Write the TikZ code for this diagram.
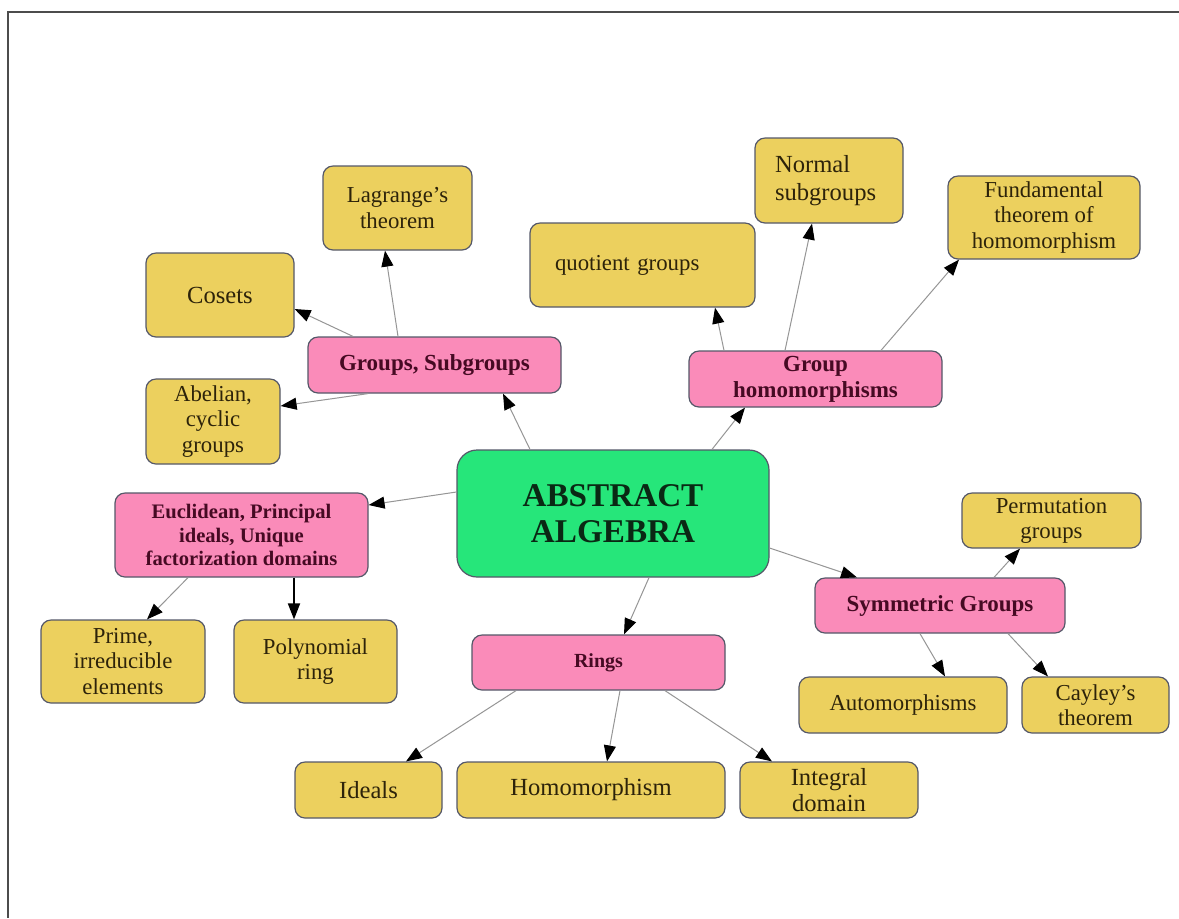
\documentclass[tikz,border=0pt]{standalone}
\usepackage{fontspec}
\setmainfont{Liberation Serif}
\usetikzlibrary{arrows.meta}
\definecolor{leafyellow}{RGB}{236,208,94}
\definecolor{topicpink}{RGB}{250,139,185}
\definecolor{rootgreen}{RGB}{38,230,122}
\definecolor{boxline}{RGB}{85,88,105}
\definecolor{linkgray}{RGB}{150,150,150}
\definecolor{leaftext}{RGB}{45,35,10}
\definecolor{topictext}{RGB}{70,10,35}
\definecolor{roottext}{RGB}{10,40,20}
\newcommand{\leaffont}{\fontsize{11.4}{12.6}\selectfont}
\newcommand{\bigleaffont}{\fontsize{12.3}{13.4}\selectfont}

\begin{document}
\begin{tikzpicture}[x=0.5pt,y=-0.5pt,
  box/.style={draw=boxline,line width=0.6pt,rounded corners=5pt,inner xsep=2pt,inner ysep=1pt,align=center},
  leaf/.style={box,fill=leafyellow,text=leaftext,font=\leaffont},
  topic/.style={box,fill=topicpink,text=topictext,font=\bfseries\fontsize{11.5}{13}\selectfont},
  root/.style={box,fill=rootgreen,rounded corners=10pt,text=roottext,font=\bfseries\fontsize{16.6}{18}\selectfont},
  link/.style={draw=linkgray,line width=0.5pt,-{Triangle[length=8pt,width=6pt,color=black]}}]
\fill [white] (0,0) rectangle (1179,918);
\useasboundingbox (0,0) rectangle (1179,918);
\draw [draw=gray!60!black,line width=0.7pt] (1179,12)--(8,12)--(8,918);

\node[root,minimum width=156pt,minimum height=63.5pt] (abs) at (613,513.5) {ABSTRACT\\ALGEBRA};

\node[topic,minimum width=126.5pt,minimum height=28pt] (grp) at (434.5,365) {Groups, Subgroups};
\node[leaf,minimum width=74.5pt,minimum height=42pt] (lag) at (397.5,208) {Lagrange's\\theorem};
\node[leaf,font=\bigleaffont,minimum width=74pt,minimum height=42pt] (cos) at (220,295) {Cosets};
\node[leaf,minimum width=67pt,minimum height=42.5pt] (abl) at (213,421.5) {Abelian,\\cyclic\\groups};

\node[topic,minimum width=126.5pt,minimum height=28pt] (ghm) at (815.5,379) {Group\\homomorphisms};
\node[leaf,minimum width=112.5pt,minimum height=42pt,text width=87.5pt,inner xsep=12.5pt,align=left] (quo) at (642.5,265) {quotient groups};
\node[leaf,font=\fontsize{12.3}{14}\selectfont,minimum width=74pt,minimum height=42.5pt,text width=54pt,inner xsep=10pt,align=left] (nor) at (829,180.5) {Normal\\subgroups};
\node[leaf,minimum width=96pt,minimum height=41.5pt] (fun) at (1044,217.5) {Fundamental\\theorem of\\homomorphism};

\node[topic,font=\bfseries\fontsize{10.3}{11.75}\selectfont,minimum width=126.5pt,minimum height=42pt] (euc) at (241.5,535) {Euclidean, Principal\\ideals, Unique\\factorization domains};
\node[leaf,minimum width=82pt,minimum height=41.5pt] (pri) at (123,661.5) {Prime,\\irreducible\\elements};
\node[leaf,minimum width=81.5pt,minimum height=41.5pt] (pol) at (315.5,661.5) {Polynomial\\ring};

\node[topic,minimum width=125pt,minimum height=27.5pt] (sym) at (940,605.5) {Symmetric Groups};
\node[leaf,minimum width=89.5pt,minimum height=27.5pt] (per) at (1051.5,520.5) {Permutation\\groups};
\node[leaf,minimum width=104pt,minimum height=28pt] (aut) at (903,705) {Automorphisms};
\node[leaf,minimum width=73.5pt,minimum height=28pt] (cay) at (1095.5,705) {Cayley's\\theorem};

\node[topic,font=\bfseries\fontsize{10}{12}\selectfont,minimum width=126.5pt,minimum height=27.5pt] (rin) at (598.5,662.5) {Rings};
\node[leaf,font=\bigleaffont,minimum width=73.5pt,minimum height=28pt] (ide) at (368.5,790) {Ideals};
\node[leaf,font=\bigleaffont,minimum width=134pt,minimum height=28pt] (hom) at (591,790) {Homomorphism};
\node[leaf,font=\bigleaffont,minimum width=89pt,minimum height=28pt] (int) at (829,790) {Integral\\domain};

\draw[link] ([xshift=-41.5pt]abs.north) -- ([xshift=34.25pt]grp.south);
\draw[link] ([xshift=49.5pt]abs.north) -- ([xshift=-35.25pt]ghm.south);
\draw[link] ([yshift=10.75pt]abs.west) -- ([yshift=15pt]euc.east);
\draw[link] ([yshift=-17.25pt]abs.east) -- ([xshift=-41.5pt]sym.north);
\draw[link] ([xshift=18pt]abs.south) -- ([xshift=12.75pt]rin.north);

\draw[link] ([xshift=-40.75pt]grp.north) -- ([yshift=-7pt]cos.east);
\draw[link] ([xshift=-18.25pt]grp.north) -- ([xshift=-6.25pt]lag.south);
\draw[link] ([xshift=-33.25pt]grp.south) -- ([yshift=7.75pt]abl.east);

\draw[link] ([xshift=-45.75pt]ghm.north) -- ([xshift=36.25pt]quo.south);
\draw[link] ([xshift=-15.25pt]ghm.north) -- ([xshift=-8.5pt]nor.south);
\draw[link] ([xshift=32.75pt]ghm.north) -- ([xshift=-42.5pt]fun.south);

\draw[link] ([xshift=-26.75pt]euc.south) -- ([xshift=12pt]pri.north);
\draw[link,draw=black,line width=0.9pt] ([xshift=26.25pt]euc.south) -- ([xshift=-10.75pt]pol.north);

\draw[link] ([xshift=27pt]sym.north) -- ([xshift=-15.75pt]per.south);
\draw[link] ([xshift=-10pt]sym.south) -- ([xshift=21pt]aut.north);
\draw[link] ([xshift=34pt]sym.south) -- ([xshift=-23.75pt]cay.north);

\draw[link] ([xshift=-41.25pt]rin.south) -- ([xshift=18.75pt]ide.north);
\draw[link] ([xshift=10.75pt]rin.south) -- ([xshift=8pt]hom.north);
\draw[link] ([xshift=33.25pt]rin.south) -- ([xshift=-28.5pt]int.north);
\end{tikzpicture}
\end{document}
